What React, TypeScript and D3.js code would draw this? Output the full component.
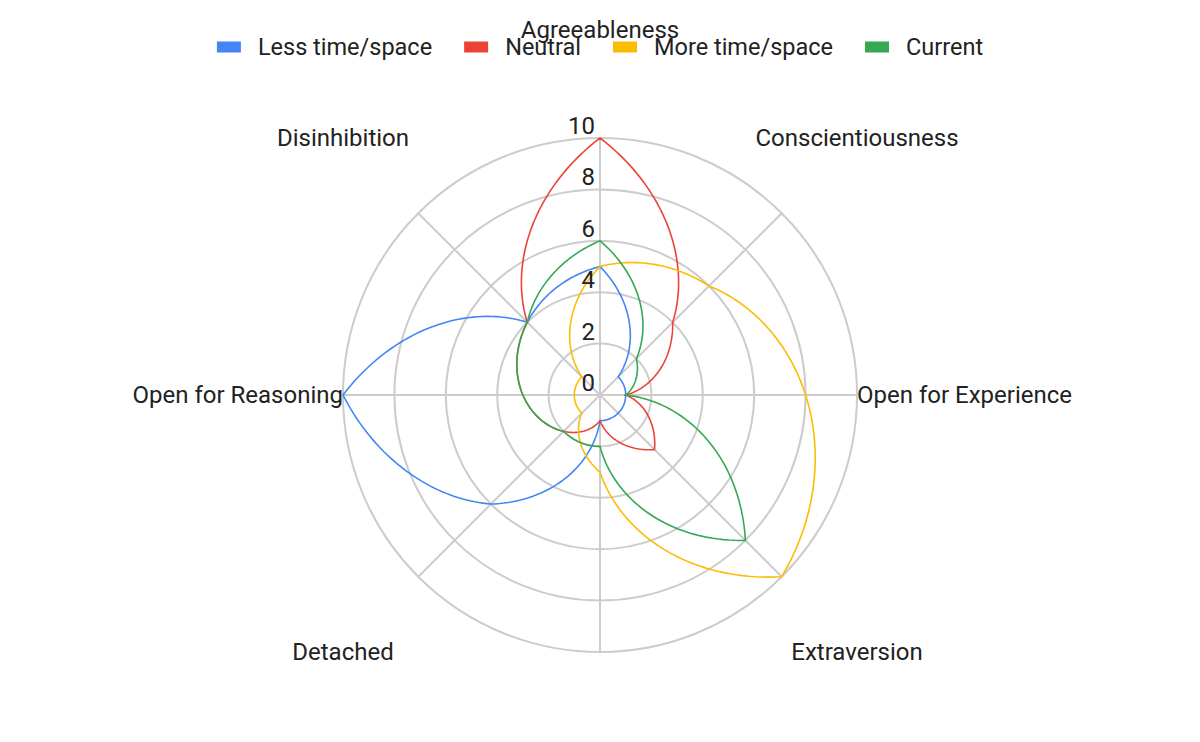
import React, { useEffect, useRef } from 'react';
import * as d3 from 'd3';

const axes = [
  'Agreeableness',
  'Conscientiousness',
  'Open for Experience',
  'Extraversion',
  '',
  'Detached',
  'Open for Reasoning',
  'Disinhibition',
];

const lessTime = [5, 1, 1, 1, 1, 6, 10, 4];
const neutral = [10, 4, 1, 3, 1, 2, 3, 4];
const moreTime = [5, 6, 8, 10, 3, 1, 1, 1];
const current = [6, 2, 1, 8, 2, 2, 3, 4];

const seriesNames = ['Less time/space', 'Neutral', 'More time/space', 'Current'];
const seriesColors = ['#4285F4', '#EA4335', '#FBBC04', '#34A853'];
const ticks = [0, 2, 4, 6, 8, 10];

const App = () => {
  const ref = useRef<SVGSVGElement | null>(null);

  useEffect(() => {
    document.body.style.margin = '0';
    const width = 1200;
    const height = 742;
    const cx = 600;
    const cy = 395;
    const R = 257;
    const font = 'Roboto, Arial, sans-serif';
    const fs = 24;

    const svg = d3.select(ref.current).attr('width', width).attr('height', height);
    svg.selectAll('*').remove();

    const r = d3.scaleLinear().domain([0, 10]).range([0, R]);
    const angle = d3
      .scaleLinear()
      .domain([0, axes.length])
      .range([0, 2 * Math.PI]);

    const g = svg.append('g').attr('transform', `translate(${cx},${cy})`);

    // rings
    g.selectAll('circle.ring')
      .data(ticks.filter((t) => t > 0))
      .enter()
      .append('circle')
      .attr('r', (d) => r(d))
      .attr('fill', 'none')
      .attr('stroke', '#cccccc')
      .attr('stroke-width', 2);

    // spokes
    g.selectAll('line.spoke')
      .data(axes)
      .enter()
      .append('line')
      .attr('x1', 0)
      .attr('y1', 0)
      .attr('x2', (d, i) => R * Math.sin(angle(i)))
      .attr('y2', (d, i) => -R * Math.cos(angle(i)))
      .attr('stroke', '#cccccc')
      .attr('stroke-width', 2);

    // series: radius changes linearly with the angle between two axes
    const all = [lessTime, neutral, moreTime, current];
    const line = d3
      .lineRadial<[number, number]>()
      .angle((d) => d[0])
      .radius((d) => d[1])
      .curve(d3.curveLinearClosed);

    all.forEach((vals, s) => {
      const pts: [number, number][] = [];
      vals.forEach((v, i) => {
        const next = vals[(i + 1) % vals.length];
        const steps = 40;
        for (let k = 0; k < steps; k++) {
          const t = k / steps;
          pts.push([angle(i + t), r(v + (next - v) * t)]);
        }
      });
      g.append('path')
        .attr('d', line(pts))
        .attr('fill', 'none')
        .attr('stroke', seriesColors[s])
        .attr('stroke-width', 1.6)
        .attr('stroke-linejoin', 'miter');
    });

    // tick labels
    g.selectAll('text.tick')
      .data(ticks)
      .enter()
      .append('text')
      .attr('x', -5)
      .attr('y', (d) => -r(d) - 4)
      .attr('text-anchor', 'end')
      .attr('font-family', font)
      .attr('font-size', fs)
      .attr('fill', '#222')
      .text((d) => d);

    // axis labels
    axes.forEach((name, i) => {
      const a = angle(i);
      const sx = Math.round(Math.sin(a) * 1000) / 1000;
      const cyy = Math.round(Math.cos(a) * 1000) / 1000;
      let x = 0;
      let y = 0;
      let anchor = 'middle';
      if (sx === 0) {
        y = -Math.sign(cyy) * (R * Math.SQRT2 + 2);
      } else if (cyy === 0) {
        x = Math.sign(sx) * R;
        anchor = sx > 0 ? 'start' : 'end';
      } else {
        x = Math.sign(sx) * R;
        y = -Math.sign(cyy) * R;
      }
      g.append('text')
        .attr('x', x)
        .attr('y', y)
        .attr('dy', '0.35em')
        .attr('text-anchor', anchor)
        .attr('font-family', font)
        .attr('font-size', fs)
        .attr('fill', '#222')
        .text(name);
    });

    // legend
    const legend = svg.append('g');
    const items = seriesNames.map((name, i) => {
      const item = legend.append('g');
      item
        .append('rect')
        .attr('width', 24)
        .attr('height', 11)
        .attr('y', 47 - 5.5)
        .attr('fill', seriesColors[i]);
      const txt = item
        .append('text')
        .attr('x', 41)
        .attr('y', 47)
        .attr('dy', '0.35em')
        .attr('font-family', font)
        .attr('font-size', 23.5)
        .attr('fill', '#222')
        .text(name);
      const tw = (txt.node() as SVGTextElement).getComputedTextLength();
      return { item, w: 41 + tw };
    });
    const gap = 32;
    const total = d3.sum(items, (d) => d.w) + gap * (items.length - 1);
    let x0 = width / 2 - total / 2;
    items.forEach((d) => {
      d.item.attr('transform', `translate(${x0},0)`);
      x0 += d.w + gap;
    });
  }, []);

  return <svg ref={ref} style={{ display: 'block' }} />;
};

export default App;
